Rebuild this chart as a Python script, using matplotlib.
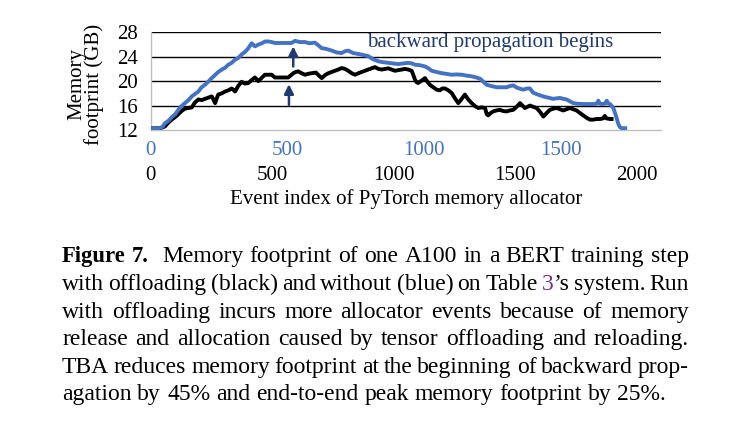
import math
import matplotlib
matplotlib.use('Agg')
import matplotlib.pyplot as plt

plt.rcParams['font.family'] = ['Liberation Serif', 'DejaVu Serif']

# ---- data ----
blue_idx = [0, 34, 45, 52, 65, 77, 90, 101, 112, 125, 138, 150, 162, 174, 186, 198, 210, 223, 235, 247,
            260, 272, 284, 296, 308, 320, 333, 345, 357, 369, 381, 394, 406, 418, 430, 442, 454, 470, 490,
            515, 527, 545, 564, 580, 600, 612, 625, 640, 662, 680, 698, 710, 722, 740, 759, 775, 795, 812,
            832, 850, 868, 885, 905, 922, 942, 955, 966, 985, 1003, 1015, 1027, 1045, 1064, 1080, 1100,
            1118, 1137, 1155, 1173, 1190, 1204, 1216, 1228, 1245, 1265, 1285, 1301, 1313, 1325, 1340,
            1362, 1375, 1386, 1398, 1415, 1435, 1452, 1471, 1485, 1496, 1508, 1520, 1532, 1545, 1560,
            1581, 1600, 1618, 1630, 1636, 1642, 1648, 1660, 1667, 1673, 1679, 1691, 1697, 1703, 1709,
            1715, 1722, 1734]
blue_gb = [12.3, 12.3, 12.6, 13.1, 13.5, 14.1, 14.6, 15.3, 15.9, 16.4, 16.9, 17.5, 17.9, 18.3, 19.0, 19.4,
           19.9, 20.5, 21.0, 21.5, 21.9, 22.2, 22.7, 23.0, 23.5, 23.8, 24.4, 24.8, 25.4, 26.2, 25.7, 26.0,
           26.2, 26.5, 26.5, 26.4, 26.25, 26.25, 26.25, 26.25, 26.6, 26.4, 26.4, 26.2, 26.3, 25.9, 25.4,
           25.3, 25.0, 24.7, 24.6, 24.9, 25.0, 24.6, 24.45, 24.3, 24.1, 23.6, 23.25, 23.1, 23.0, 22.9,
           22.8, 22.9, 23.0, 22.9, 22.7, 22.6, 22.4, 22.1, 21.7, 21.5, 21.3, 21.2, 21.05, 21.1, 21.05,
           20.9, 20.8, 20.6, 20.4, 19.9, 19.4, 19.2, 19.0, 19.0, 19.0, 19.2, 19.3, 18.9, 18.6, 18.8, 18.8,
           18.1, 17.8, 17.5, 17.3, 17.1, 17.2, 17.25, 17.1, 17.0, 16.7, 16.4, 16.3, 16.25, 16.25, 16.25,
           16.3, 16.8, 16.3, 16.25, 16.3, 16.8, 16.3, 16.25, 15.6, 14.8, 13.95, 13.0, 12.45, 12.3, 12.3]

black_idx = [0, 40, 59, 72, 86, 100, 114, 127, 141, 155, 169, 182, 196, 210, 223, 237, 251, 258, 265, 272,
             278, 292, 306, 320, 333, 340, 347, 360, 374, 388, 402, 416, 429, 436, 443, 456, 470, 484, 498,
             511, 540, 566, 575, 587, 597, 607, 621, 635, 648, 662, 680, 690, 704, 718, 731, 745, 758, 772,
             786, 800, 813, 827, 841, 855, 868, 882, 895, 909, 923, 937, 951, 965, 978, 992, 1005, 1019,
             1033, 1047, 1060, 1074, 1081, 1088, 1095, 1101, 1115, 1129, 1139, 1149, 1163, 1177, 1190,
             1200, 1211, 1225, 1239, 1252, 1266, 1280, 1293, 1307, 1321, 1335, 1348, 1362, 1376, 1383,
             1389, 1400, 1410, 1423, 1437, 1451, 1465, 1478, 1492, 1506, 1520, 1530, 1540, 1550, 1561,
             1575, 1588, 1602, 1616, 1630, 1643, 1657, 1671, 1684, 1698, 1712, 1725, 1739, 1753, 1766,
             1780, 1794, 1808, 1822, 1835, 1849, 1862, 1869, 1876, 1890, 1897]
black_gb = [12.3, 12.3, 12.6, 13.2, 13.7, 14.1, 14.6, 15.1, 15.5, 15.6, 15.7, 16.5, 17.0, 16.9, 17.1, 17.3,
            17.5, 17.0, 16.4, 17.2, 17.8, 18.0, 18.3, 18.5, 18.8, 18.6, 18.3, 19.2, 19.9, 19.6, 19.7, 20.2,
            20.6, 20.3, 20.0, 20.5, 21.05, 21.05, 21.05, 20.6, 20.6, 20.6, 20.9, 21.3, 21.5, 21.6, 21.3,
            21.05, 21.2, 21.3, 21.4, 21.0, 20.5, 21.0, 21.3, 21.5, 21.7, 21.9, 22.15, 22.0, 21.7, 21.3,
            21.05, 21.3, 21.5, 21.7, 21.9, 22.1, 22.3, 22.0, 21.9, 22.0, 22.1, 21.9, 21.7, 21.8, 21.9,
            22.0, 21.9, 21.7, 21.0, 20.2, 19.8, 19.7, 20.1, 20.5, 19.9, 19.4, 19.0, 18.6, 18.5, 18.8,
            18.8, 18.5, 18.05, 17.2, 16.4, 17.1, 17.8, 17.0, 16.4, 15.9, 15.6, 15.7, 15.6, 14.6, 14.4,
            14.8, 15.05, 15.2, 15.3, 15.1, 15.05, 15.2, 15.3, 15.8, 16.4, 16.0, 15.6, 15.8, 16.0, 15.8,
            15.6, 15.0, 14.2, 14.8, 15.3, 15.5, 15.6, 15.4, 15.2, 15.4, 15.6, 15.4, 15.2, 14.8, 14.4,
            14.0, 13.7, 13.7, 13.8, 13.8, 13.9, 14.3, 13.9, 13.8, 13.8]

y_ticks = [12, 16, 20, 24, 28]
blue_ticks = [0, 500, 1000, 1500]
black_ticks = [0, 500, 1000, 1500, 2000]

caption = [
    "Figure 7.  Memory footprint of one A100 in a BERT training step",
    "with offloading (black) and without (blue) on Table 3\u2019s system. Run",
    "with offloading incurs more allocator events because of memory",
    "release and allocation caused by tensor offloading and reloading.",
    "TBA reduces memory footprint at the beginning of backward prop-",
    "agation by 45% and end-to-end peak memory footprint by 25%.",
]

# ---- styling ----
W, H = 737, 430
BLUE = '#4472C4'
NAVY = '#203B73'
PURPLE = '#7B2D8E'
FS = 15

fig = plt.figure(figsize=(W / 100, H / 100), dpi=100)
ppg = (130 - 32.3) / 16.0  # pixels per GB
top_px = 130 - 16.1 * ppg
ax = fig.add_axes([150.7 / W, 1 - 130 / H, 510 / W, (130 - top_px) / H])
ax.set_xlim(0, 2099)
ax.set_ylim(12, 28.1)
ax.plot(black_idx, black_gb, color='black', lw=2.8, solid_joinstyle='round', zorder=3)
ax.set_yticks(y_ticks)
ax.tick_params(axis='y', length=0, pad=9, labelsize=FS)
ax.set_xticks(black_ticks)
ax.tick_params(axis='x', length=0, pad=26, labelsize=FS)
ax.grid(axis='y', color='black', lw=1.0)
ax.yaxis.get_gridlines()[0].set_visible(False)
ax.set_axisbelow(True)
for s in ['top', 'right']:
    ax.spines[s].set_visible(False)
for s in ['left', 'bottom']:
    ax.spines[s].set_color('#c0c0c0')
    ax.spines[s].set_linewidth(1.0)

ax2 = ax.twiny()
ax2.set_xlim(0, 1864)
ax2.plot(blue_idx, blue_gb, color=BLUE, lw=2.8, solid_joinstyle='round', zorder=4)
ax2.xaxis.set_ticks_position('bottom')
ax2.set_xticks(blue_ticks)
ax2.tick_params(axis='x', length=0, pad=8, labelsize=FS, labelcolor=BLUE)
for s in ax2.spines.values():
    s.set_visible(False)

arrow = dict(arrowstyle='-|>', color=NAVY, lw=1.8, mutation_scale=14, shrinkA=0, shrinkB=0)
ax2.annotate('', xy=(521, 25.7), xytext=(521, 22.4), arrowprops=arrow, zorder=6)
ax.annotate('', xy=(569, 19.5), xytext=(569, 16.1), arrowprops=arrow, zorder=6)

fig.text(490 / W, 1 - 47.3 / H, 'backward propagation begins', color=NAVY, fontsize=FS,
         ha='center', va='baseline')
fig.text(405.8 / W, 1 - 204 / H, 'Event index of PyTorch memory allocator', fontsize=FS,
         ha='center', va='baseline')
fig.text(86 / W, 1 - 84 / H, 'Memory\nfootprint (GB)', fontsize=FS, rotation=90,
         ha='center', va='center', multialignment='center', linespacing=0.85)

# ---- justified caption (word by word, baselines snapped to one pixel row) ----
CFS = 17.0
CFS_B = 16.3
renderer = fig.canvas.get_renderer()
x0, x1 = 62.0, 689.0
baselines = [262, 290, 318, 345, 373, 400]
space_px = 0.25 * CFS * 100 / 72
for li, line in enumerate(caption):
    words = line.split(' ')
    items = []
    for wi, w in enumerate(words):
        segs = []
        if li == 0 and wi < 2:
            segs.append((w, 'bold', 'black'))
        elif w.startswith('3\u2019'):
            segs.append(('3', 'normal', PURPLE))
            segs.append((w[1:], 'normal', 'black'))
        else:
            segs.append((w, 'normal', 'black'))
        objs = []
        width = 0.0
        for txt, wt, col in segs:
            if txt == '':
                continue
            t = fig.text(0, 0, txt, fontsize=(CFS_B if wt == 'bold' else CFS), fontweight=wt,
                         color=col, ha='left', va='baseline')
            tw, th, td = renderer.get_text_width_height_descent(txt, t.get_fontproperties(), False)
            ya = baselines[li] + math.floor(th) - math.floor(th - td) - td
            t.set_y((H - ya) / H)
            wpx = t.get_window_extent(renderer).width
            objs.append((t, width))
            width += wpx
        items.append((objs, width))
    total = sum(w for _, w in items)
    ngaps = len(items) - 1
    if li < len(caption) - 1:
        gap = (x1 - x0 - total) / ngaps
    else:
        gap = space_px
    x = x0
    for objs, width in items:
        for t, off in objs:
            t.set_x((x + off) / W)
        x += width + gap

fig.savefig('out.png', dpi=100)
